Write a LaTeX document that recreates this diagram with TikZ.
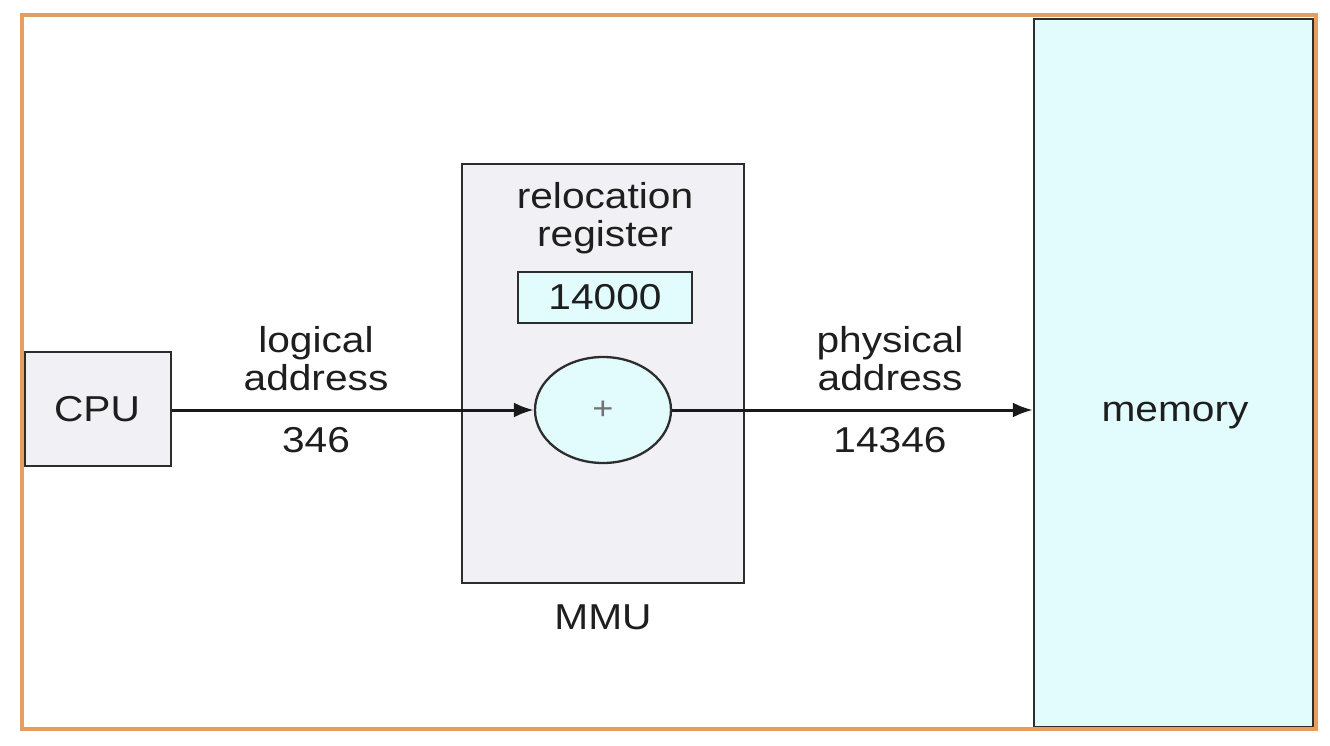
\documentclass[tikz,border=0pt]{standalone}
\usepackage{fontspec}
\setmainfont[FakeStretch=1.13]{Liberation Sans}
\usetikzlibrary{arrows.meta,shapes.geometric}
\definecolor{brd}{RGB}{230,158,95}
\definecolor{cyanf}{RGB}{226,252,254}
\definecolor{grayf}{RGB}{241,241,245}
\definecolor{edge}{RGB}{45,45,45}
\definecolor{txt}{RGB}{30,30,30}
\begin{document}
\begin{tikzpicture}[x=1pt,y=-1pt,
  box/.style={draw=edge, line width=2.3pt, inner sep=0pt},
  lbl/.style={text=txt, font=\fontsize{36}{38}\selectfont, align=center, inner sep=0pt},
  conn/.style={line width=3pt, draw=black!90, -{Latex[length=20pt,width=15pt]}}]
\useasboundingbox (0,0) rectangle (1330,746);
\fill[white] (0,0) rectangle (1330,746);
\node[box, fill=cyanf, minimum width=279pt, minimum height=708pt] (mem) at (1173.5,373) {};
\node[lbl] (memlbl) at (1175,416) {memory};
\draw[brd, line width=3.5pt] (22,15) rectangle (1316,729);
\node[box, fill=grayf, minimum width=146pt, minimum height=114pt] (cpu) at (98,409) {};
\node[lbl] (cpulbl) at (97,409) {CPU};
\node[box, fill=grayf, minimum width=282pt, minimum height=419pt] (mmu) at (603,373.5) {};
\node[lbl] (reloc) at (605,218) {relocation\\register};
\node[box, fill=cyanf, minimum width=174pt, minimum height=51pt, text=txt, font=\fontsize{36}{38}\selectfont] (reg) at (605,297.5) {14000};
\node[box, ellipse, fill=cyanf, minimum width=136pt, minimum height=106pt, text=black!55, font=\fontsize{32}{32}\selectfont] (add) at (603,410) {+};
\node[lbl] (mmulbl) at (603,617) {MMU};
\node[lbl] (logl) at (316,359) {logical\\address};
\node[lbl] (logv) at (316,440) {346};
\node[lbl] (phyl) at (890,359) {physical\\address};
\node[lbl] (phyv) at (890,440) {14346};
\draw[conn] (cpu.east |- add.west) -- (add.west);
\draw[conn] (add.east) -- (add.east -| mem.west);
\end{tikzpicture}
\end{document}
